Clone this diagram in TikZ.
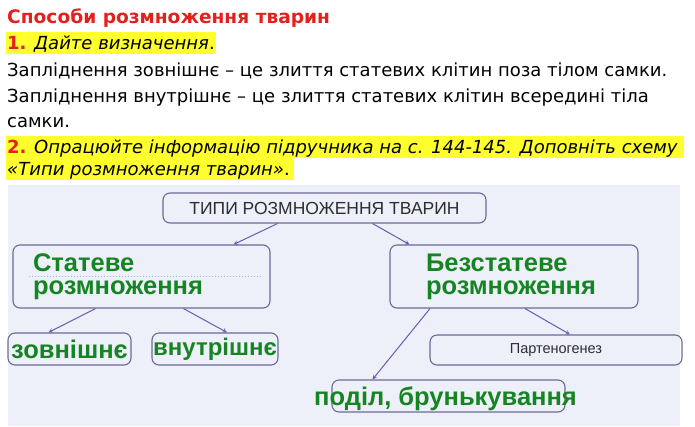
\documentclass[tikz,border=0pt]{standalone}
\usepackage{fontspec}
\setmainfont{DejaVu Sans}
\newfontfamily\schemefont{Liberation Sans}
\usetikzlibrary{positioning, arrows}
\definecolor{titlered}{RGB}{228,32,28}
\definecolor{hilite}{RGB}{255,255,45}
\definecolor{schemebg}{RGB}{237,240,248}
\definecolor{boxline}{RGB}{108,106,150}
\definecolor{arrowblue}{RGB}{96,96,180}
\definecolor{leafgreen}{RGB}{22,132,34}
\definecolor{dotblue}{RGB}{150,185,225}
\definecolor{darktext}{RGB}{45,45,50}
\tikzset{
	>=stealth, % тонкі стрілки
	line/.style={anchor=base west, inner sep=0pt, font=\fontsize{18}{25}\selectfont}, % рядок тексту
	hl/.style={line, fill=hilite, inner xsep=1pt, text height=17pt, text depth=5pt}, % жовте виділення
	box/.style={draw=boxline, line width=1.1pt, rounded corners=7pt}, % рамка схеми
	greentxt/.style={text=leafgreen, font=\schemefont\bfseries\fontsize{25.5}{23}\selectfont}, % зелений напис
	link/.style={->, draw=arrowblue, line width=1pt} % стрілка схеми
}
\begin{document}
\begin{tikzpicture}[x=1pt, y=-1pt]
	\useasboundingbox (0,0) rectangle (695,426);
	\fill[schemebg] (8,185) rectangle (680,426);

	\node[line, text=titlered, font=\bfseries\fontsize{18.6}{25}\selectfont] (title) at (7,23) {Способи розмноження тварин};
	\node[hl] (task1) at (6,49) {\textcolor{titlered}{\bfseries 1.} \textit{Дайте визначення}.};
	\node[line] (def1) at (7,76) {Запліднення зовнішнє – це злиття статевих клітин поза тілом самки.};
	\node[line] (def2) at (7,102) {Запліднення внутрішнє – це злиття статевих клітин всередині тіла};
	\node[line] (def3) at (7,127) {самки.};
	\node[hl] (task2) at (6,153) {\textcolor{titlered}{\bfseries 2.} \textit{Опрацюйте інформацію підручника на с. 144-145. Доповніть схему}\hspace*{5pt}};
	\node[hl] (task2b) at (6,175) {\textit{«Типи розмноження тварин»}.\hspace*{3pt}};

	\node[box, minimum width=323, minimum height=30, text=darktext, font=\schemefont\fontsize{17.5}{18}\selectfont] (tipy) at (324.5,208) {ТИПИ РОЗМНОЖЕННЯ ТВАРИН};
	\node[box, greentxt, minimum height=63, text width=217, inner xsep=20, align=left] (stat) at (141.5,276.5) {Статеве\\розмноження};
	\node[box, greentxt, minimum height=63, text width=176, inner xsep=36, align=left] (bezstat) at (514,276.5) {Безстатеве\\розмноження};
	\node[box, greentxt, minimum width=123, minimum height=32, inner xsep=0] (zovn) at (69.5,349) {зовнішнє};
	\node[box, greentxt, minimum width=126, minimum height=32, inner xsep=0, font=\schemefont\bfseries\fontsize{24}{23}\selectfont] (vnutr) at (215,349) {внутрішнє};
	\node[box, minimum width=252, minimum height=30, text=darktext, font=\schemefont\fontsize{14.5}{15}\selectfont] (parten) at (556,350) {Партеногенез};
	\node[box, minimum width=233, minimum height=32, label={[greentxt, name=podilT, xshift=-3, yshift=-3]center:{поділ, брунькування}}] (podil) at (448.5,396) {};

	\draw[dotblue, dotted, line width=1pt] ([xshift=17]stat.west) -- ([xshift=-8]stat.east);

	\draw[link] ([xshift=-47]tipy.south) -- ([xshift=-37]stat.north east);
	\draw[link] ([xshift=48]tipy.south) -- ([xshift=20]bezstat.north west);
	\draw[link] ([xshift=-46]stat.south) -- ([xshift=-21]zovn.north);
	\draw[link] ([xshift=42]stat.south) -- ([xshift=12]vnutr.north);
	\draw[link] ([xshift=11]bezstat.south) -- ([xshift=14]parten.north);
	\draw[link] ([xshift=-84]bezstat.south) -- ([xshift=-76]podil.north);
\end{tikzpicture}
\end{document}
